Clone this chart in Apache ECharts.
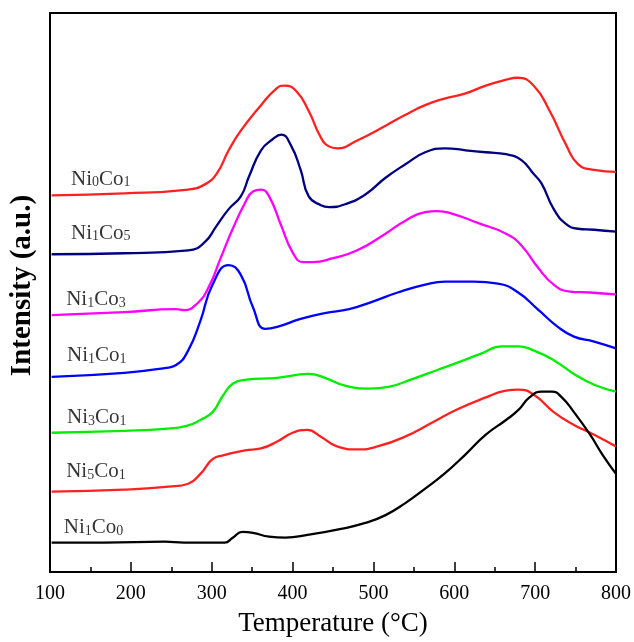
<!DOCTYPE html>
<html>
<head>
<meta charset="utf-8">
<script src="https://cdn.jsdelivr.net/npm/echarts@6/dist/echarts.min.js"></script>
<style>
html,body{margin:0;padding:0;background:#fff;}
#chart{width:634px;height:642px;}
</style>
</head>
<body>
<div id="chart"></div>
<script>
// Temperature (°C) and intensity (a.u.)
var tNi0Co1 = [102,192,271,291,306,321,336,361,380,390,405,420,435,445,455,480,515,539,564,589,614,639,664,678,698,718,738,753,773,800];
var vNi0Co1 = [384,386,390,395,406,430,450,476,493,496,490,470,443,434,432,440,455,466,476,483,488,496,502,504,496,470,436,416,410,408];

var tNi1Co5 = [102,192,271,291,306,321,336,346,361,375,386,398,410,420,435,445,465,490,515,540,564,589,614,639,664,683,698,708,723,738,753,773,800];
var vNi1Co5 = [324,325,328,336,353,370,383,403,430,441,446,435,410,383,374,372,375,385,402,416,428,432,430,428,426,420,406,396,370,355,350,349,347];

var tNi1Co3 = [102,192,256,266,281,296,311,326,341,351,361,371,386,400,413,425,450,480,515,539,564,579,599,629,664,683,703,723,743,768,800];
var vNi1Co3 = [262,265,268,267,273,290,320,350,376,388,390,383,353,326,316,316,320,328,345,358,367,368,365,356,345,333,311,293,286,285,283];

var tNi1Co1 = [102,192,242,256,271,286,301,321,336,351,366,381,410,440,470,500,530,564,589,624,654,679,703,728,748,773,800];
var vNi1Co1 = [199,203,208,211,226,256,293,313,303,270,248,250,258,264,268,276,285,293,296,296,294,285,268,250,240,235,228];

var tNi3Co1 = [102,192,242,269,286,301,314,326,341,381,405,420,440,465,495,520,549,579,609,634,659,679,698,723,748,773,800];
var vNi3Co1 = [142,144,146,149,155,163,180,192,196,198,201,202,198,190,187,189,197,206,215,223,230,230,226,216,202,191,184];

var tNi5Co1 = [102,192,247,271,286,301,314,341,361,381,400,418,435,455,480,505,539,574,604,639,664,679,698,723,748,773,800];
var vNi5Co1 = [82,84,87,90,100,115,119,124,126,133,142,145,138,128,125,128,138,153,166,178,185,186,181,163,150,140,128];

var tNi1Co0 = [102,167,242,266,291,316,326,338,351,371,391,420,460,490,515,539,564,589,614,639,664,679,693,708,721,733,748,768,783,800];
var vNi1Co0 = [30,30,31,30,30,30,35,41,40,36,35,38,44,50,58,70,85,101,120,140,155,165,178,184,184,178,163,140,120,100];

var sampleNames = ['Ni0Co1','Ni1Co5','Ni1Co3','Ni1Co1','Ni3Co1','Ni5Co1','Ni1Co0'];
var xTicks = [100,200,300,400,500,600,700,800];

function zip(t, v){ return t.map(function(x,i){ return [x, v[i]]; }); }

var seriesDefs = [
  {name:'Ni0Co1', t:tNi0Co1, v:vNi0Co1, color:'#ff2020'},
  {name:'Ni1Co5', t:tNi1Co5, v:vNi1Co5, color:'#000080'},
  {name:'Ni1Co3', t:tNi1Co3, v:vNi1Co3, color:'#ff00ff'},
  {name:'Ni1Co1', t:tNi1Co1, v:vNi1Co1, color:'#0000ff'},
  {name:'Ni3Co1', t:tNi3Co1, v:vNi3Co1, color:'#00ee00'},
  {name:'Ni5Co1', t:tNi5Co1, v:vNi5Co1, color:'#ff2020'},
  {name:'Ni1Co0', t:tNi1Co0, v:vNi1Co0, color:'#000000'}
];

// label anchor points (data coords)
var labelAnchors = [[126,401],[126,346],[120,278],[121,221],[121,158],[120,103],[117,46]];

function richName(n){
  var m = n.match(/^Ni(\d)Co(\d)$/);
  return '{m|Ni}{s|' + m[1] + '}{m|Co}{s|' + m[2] + '}';
}

var FONT = '"Liberation Serif","Times New Roman",serif';

var series = seriesDefs.map(function(s){
  return {
    type:'line', name:s.name, data: zip(s.t, s.v), smooth:0.5, symbol:'none',
    lineStyle:{color:s.color, width:2.3}, z:3
  };
});
series.push({
  type:'scatter', symbolSize:0, silent:true,
  data: sampleNames.map(function(n,i){ return {value: labelAnchors[i], name:n}; }),
  label:{
    show:true, position:'right', distance:0, color:'#000',
    formatter: function(p){ return richName(p.name); },
    rich:{
      m:{fontFamily:FONT, fontSize:21, color:'#000', verticalAlign:'bottom', lineHeight:22},
      s:{fontFamily:FONT, fontSize:14, color:'#000', verticalAlign:'bottom', lineHeight:18}
    }
  }
});

var chart = echarts.init(document.getElementById('chart'), null, {renderer:'canvas'});
chart.setOption({
  animation:false,
  backgroundColor:'#fff',
  grid:{left:47, right:18, top:13, bottom:59, show:true, borderColor:'#000', borderWidth:2, backgroundColor:'transparent'},
  xAxis:{
    type:'value', min:100, max:800, interval:100,
    name:'Temperature (°C)', nameLocation:'middle', nameGap:38,
    nameTextStyle:{fontFamily:FONT, fontSize:27, color:'#000'},
    axisLine:{show:true, lineStyle:{color:'#000', width:2}},
    axisTick:{show:true, inside:true, length:10, lineStyle:{color:'#000', width:1.5}},
    minorTick:{show:true, splitNumber:2, length:5, lineStyle:{color:'#000', width:1.5}},
    axisLabel:{fontFamily:FONT, fontSize:20, color:'#000', margin:12,
      formatter:function(v){ return xTicks.indexOf(v)>=0 ? String(v) : ''; }},
    splitLine:{show:false}
  },
  yAxis:{
    type:'value', min:0, max:570,
    name:'Intensity (a.u.)', nameLocation:'middle', nameGap:13,
    nameTextStyle:{fontFamily:FONT, fontSize:29, fontWeight:'bold', color:'#000', padding:[0,0,0,14]},
    axisLine:{show:true, lineStyle:{color:'#000', width:2}},
    axisTick:{show:false}, axisLabel:{show:false}, splitLine:{show:false}
  },
  series: series
});
</script>
</body>
</html>
